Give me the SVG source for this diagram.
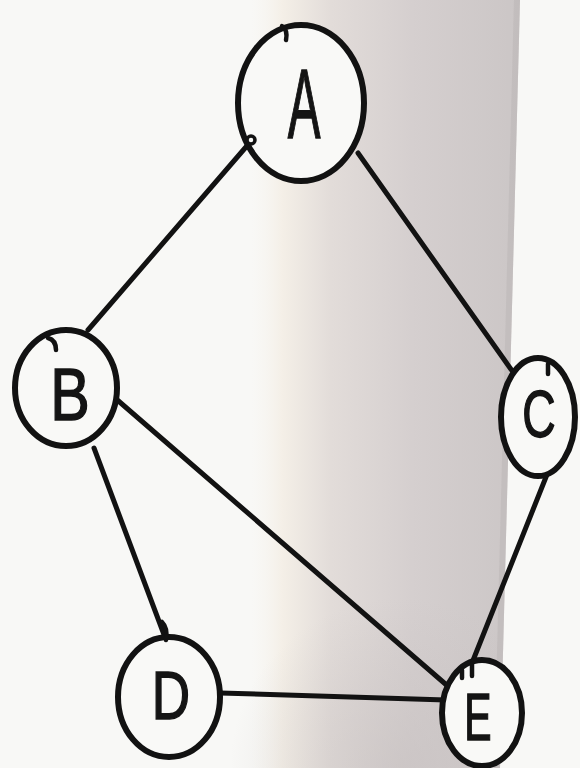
<svg xmlns="http://www.w3.org/2000/svg" width="580" height="768" viewBox="0 0 580 768">
  <defs>
    <linearGradient id="band" x1="250" y1="0" x2="520" y2="0" gradientUnits="userSpaceOnUse">
      <stop offset="0" stop-color="#f7f5f0" stop-opacity="0"/>
      <stop offset="0.12" stop-color="#f4efe7"/>
      <stop offset="0.3" stop-color="#e2dcd9"/>
      <stop offset="0.6" stop-color="#d5cfcf"/>
      <stop offset="1" stop-color="#cbc6c6"/>
    </linearGradient>
    <radialGradient id="lower" cx="400" cy="768" r="170" gradientUnits="userSpaceOnUse">
      <stop offset="0" stop-color="#c4bebe" stop-opacity="0.55"/>
      <stop offset="1" stop-color="#c4bebe" stop-opacity="0"/>
    </radialGradient>
    <style>
      .edge { stroke: #121212; stroke-width: 5; stroke-linecap: round; fill: none; }
      .ring { stroke: #121212; stroke-width: 6; fill: #f9f9f7; }
      .tick { stroke: #121212; stroke-width: 4.5; stroke-linecap: round; fill: none; }
      .lbl { font-family: "Liberation Sans", "DejaVu Sans", sans-serif; fill: #141414; stroke: #141414; stroke-width: 1.5; text-anchor: middle; }
    </style>
  </defs>

  <!-- paper and shaded fold -->
  <rect width="580" height="768" fill="#f8f8f6"/>
  <path d="M250 0 L520 0 L500 768 L250 768 Z" fill="url(#band)"/>
  <path d="M220 590 L503 590 L500 768 L220 768 Z" fill="url(#lower)"/>
  <path d="M514 0 L520 0 L500 768 L494 768 Z" fill="#bcb7b7" opacity="0.55"/>

  <g id="connectors">
    <line class="edge" x1="252" y1="140" x2="88" y2="330"/>
    <line class="edge" x1="358" y1="153" x2="520" y2="382"/>
    <line class="edge" x1="115" y1="398" x2="450" y2="688"/>
    <line class="edge" x1="94" y1="448" x2="166" y2="640"/>
    <line class="edge" x1="220" y1="693" x2="446" y2="700"/>
    <line class="edge" x1="548" y1="472" x2="470" y2="668"/>
  </g>

  <g id="node-A">
    <ellipse class="ring" cx="301" cy="103" rx="63" ry="78"/>
    <path class="tick" d="M282 26 q6 4 4 14"/>
    <circle cx="251" cy="140" r="4" fill="#f9f9f7" stroke="#121212" stroke-width="3.5"/>
    <text class="lbl" transform="translate(304 138) scale(0.5 1)" font-size="98">A</text>
  </g>

  <g id="node-B">
    <ellipse class="ring" cx="66" cy="388" rx="51" ry="58"/>
    <path class="tick" d="M48 338 q8 2 8 12"/>
    <text class="lbl" transform="translate(70 420) scale(0.8 1)" font-size="74">B</text>
  </g>

  <g id="node-C">
    <ellipse class="ring" cx="538" cy="417" rx="37" ry="59"/>
    <path class="tick" d="M548 364 v10"/>
    <text class="lbl" transform="translate(539 437) scale(0.7 1)" font-size="66">C</text>
  </g>

  <g id="node-D">
    <ellipse class="ring" cx="169" cy="697" rx="51" ry="60"/>
    <path class="tick" d="M162 622 q6 6 4 18"/>
    <text class="lbl" transform="translate(171 719) scale(0.78 1)" font-size="68">D</text>
  </g>

  <g id="node-E">
    <ellipse class="ring" cx="482" cy="713" rx="40" ry="53"/>
    <path class="tick" d="M472 664 v12 M462 670 v8"/>
    <text class="lbl" transform="translate(478 740) scale(0.62 1)" font-size="66">E</text>
  </g>
</svg>
